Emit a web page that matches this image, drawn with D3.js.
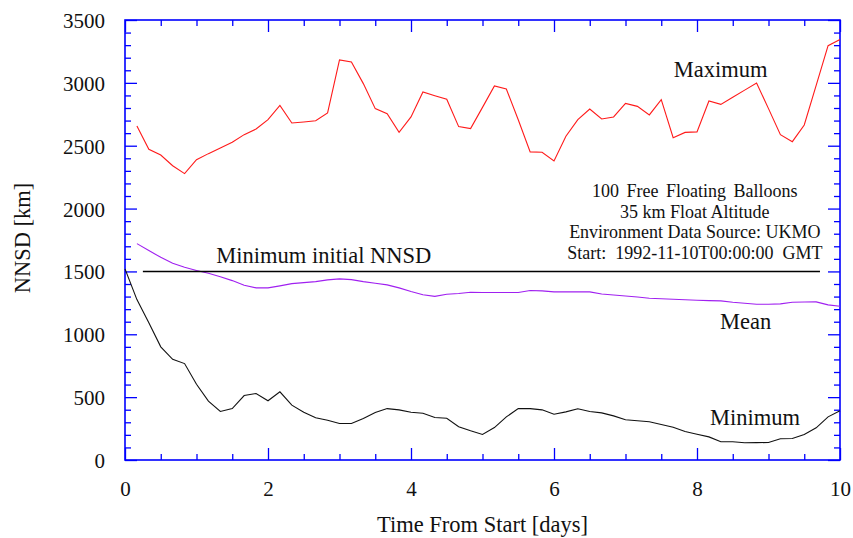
<!DOCTYPE html>
<html>
<head>
<meta charset="utf-8">
<script src="https://cdn.jsdelivr.net/npm/d3@7"></script>
<style>
  body { margin: 0; background: #ffffff; }
  text { font-family: "Liberation Serif", "Times New Roman", serif; fill: #111111; }
</style>
</head>
<body>
<div class="nnsd_chart"></div>
<script>
// Time of each sample, hours from start (every 4 h over 10 days)
var hours = [0,4,8,12,16,20,24,28,32,36,40,44,48,52,56,60,64,68,72,76,80,84,88,92,96,100,
  104,108,112,116,120,124,128,132,136,140,144,148,152,156,160,164,168,172,176,180,184,188,
  192,196,200,204,208,212,216,220,224,228,232,236,240];

// NNSD values [km] (null = no sample)
var maximum = [null,2657,2471,2426,2341,2278,2389,2437,2482,2527,2588,2633,2707,2821,2681,2689,
  2699,2761,3182,3166,2994,2795,2755,2606,2729,2928,2898,2869,2652,2636,2805,2975,2951,2707,
  2451,2448,2379,2575,2707,2792,2713,2729,2837,2813,2745,2866,2564,2606,2610,2856,2829,2885,
  2942,2999,2795,2588,2532,2665,2980,3296,3344];

var mean = [null,1721,1666,1612,1565,1533,1507,1485,1457,1427,1390,1369,1369,1385,1403,1411,
  1419,1433,1441,1435,1419,1406,1393,1369,1340,1314,1302,1318,1324,1334,1332,1332,1332,1332,
  1348,1345,1337,1337,1337,1337,1321,1313,1305,1296,1287,1283,1279,1275,1271,1268,1266,1255,
  1247,1239,1239,1242,1255,1257,1258,1234,1223];

var minimum = [1520,1276,1091,900,801,767,603,468,386,409,513,529,471,542,436,380,336,316,290,
  290,330,378,409,399,380,372,338,332,264,232,203,258,343,409,409,399,364,383,407,386,375,351,
  320,312,304,283,261,227,205,184,145,145,137,138,139,169,171,203,256,343,391];

// Reference line: minimum initial NNSD
var refValue = 1500;
var refDays = [0.25, 9.72];

// Axis ticks
var xMajor = [0, 2, 4, 6, 8, 10];
var xMinor = [0.5, 1, 1.5, 2.5, 3, 3.5, 4.5, 5, 5.5, 6.5, 7, 7.5, 8.5, 9, 9.5];
var yMajor = [0, 500, 1000, 1500, 2000, 2500, 3000, 3500];
var yMinor = [100,200,300,400,600,700,800,900,1100,1200,1300,1400,1600,1700,1800,1900,
  2100,2200,2300,2400,2600,2700,2800,2900,3100,3200,3300,3400];

var notes = ["100 Free Floating Balloons", "35 km Float Altitude",
  "Environment Data Source: UKMO", "Start:  1992-11-10T00:00:00  GMT"];

// Set the dimensions and margins
var margin = {top: 20, right: 13, bottom: 78, left: 125},
width = 853 - margin.left - margin.right,
height = 538 - margin.top - margin.bottom;

var svg = d3.select(".nnsd_chart")
  .append("svg")
  .attr("width", width + margin.left + margin.right)
  .attr("height", height + margin.top + margin.bottom)
  .append("g")
  .attr("transform", "translate(" + margin.left + "," + margin.top + ")");

var x = d3.scaleLinear().domain([0, 10]).range([0, width]);
var y = d3.scaleLinear().domain([0, 3500]).range([height, 0]);

var blue = "#0000ff";

function styleAxis(g) {
  g.select(".domain").remove();
  g.selectAll(".tick line").attr("stroke", blue).attr("stroke-width", 1.3);
}

// Minor ticks on all four sides, pointing inward
svg.append("g").attr("transform", "translate(0," + height + ")")
  .call(d3.axisBottom(x).tickValues(xMinor).tickSize(-6).tickFormat(""))
  .call(styleAxis);
svg.append("g")
  .call(d3.axisTop(x).tickValues(xMinor).tickSize(-6).tickFormat(""))
  .call(styleAxis);
svg.append("g")
  .call(d3.axisLeft(y).tickValues(yMinor).tickSize(-6).tickFormat(""))
  .call(styleAxis);
svg.append("g").attr("transform", "translate(" + width + ",0)")
  .call(d3.axisRight(y).tickValues(yMinor).tickSize(-6).tickFormat(""))
  .call(styleAxis);

// Major ticks
svg.append("g").attr("transform", "translate(0," + height + ")")
  .style("font-size", "21px")
  .call(d3.axisBottom(x).tickValues(xMajor).tickSize(-12).tickFormat(d3.format("d")))
  .call(styleAxis)
  .call(g => g.selectAll(".tick text")
    .attr("y", 36).attr("dy", 0)
    .attr("fill", "#111111")
    .style("font-family", "'Liberation Serif', serif"));
svg.append("g")
  .call(d3.axisTop(x).tickValues(xMajor).tickSize(-12).tickFormat(""))
  .call(styleAxis);
svg.append("g")
  .style("font-size", "21px")
  .call(d3.axisLeft(y).tickValues(yMajor).tickSize(-12).tickPadding(20).tickFormat(d3.format("d")))
  .call(styleAxis)
  .call(g => g.selectAll(".tick text")
    .attr("dy", "0.36em")
    .attr("fill", "#111111")
    .style("font-family", "'Liberation Serif', serif"));
svg.append("g").attr("transform", "translate(" + width + ",0)")
  .call(d3.axisRight(y).tickValues(yMajor).tickSize(-12).tickFormat(""))
  .call(styleAxis);

// Frame
svg.append("rect")
  .attr("width", width)
  .attr("height", height)
  .attr("fill", "none")
  .attr("stroke", blue)
  .attr("stroke-width", 1.6);

// Axis titles
svg.append("text")
  .attr("x", width / 2)
  .attr("y", height + 72)
  .style("font-size", "22.5px")
  .style("text-anchor", "middle")
  .text("Time From Start [days]");

svg.append("text")
  .attr("transform", "rotate(-90)")
  .attr("x", -height / 2 + 2)
  .attr("y", -margin.left + 30)
  .style("font-size", "22.5px")
  .style("text-anchor", "middle")
  .text("NNSD [km]");

// Lines
var days = hours.map(h => h / 24);
function series(vals) {
  return vals.map((v, i) => ({day: days[i], value: v}));
}
var line = d3.line()
  .defined(d => d.value != null)
  .x(d => x(d.day))
  .y(d => y(d.value));

svg.append("path")
  .datum(series(maximum))
  .attr("fill", "none")
  .attr("stroke", "#ff1a1a")
  .attr("stroke-width", 1.1)
  .attr("d", line);

svg.append("path")
  .datum(series(mean))
  .attr("fill", "none")
  .attr("stroke", "#a020f0")
  .attr("stroke-width", 1.1)
  .attr("d", line);

svg.append("path")
  .datum(series(minimum))
  .attr("fill", "none")
  .attr("stroke", "#111111")
  .attr("stroke-width", 1.1)
  .attr("d", line);

// Minimum initial NNSD reference line
svg.append("line")
  .attr("x1", x(refDays[0]))
  .attr("x2", x(refDays[1]))
  .attr("y1", y(refValue))
  .attr("y2", y(refValue))
  .attr("stroke", "#000000")
  .attr("stroke-width", 1.4);

// Curve labels
function label(txt, day, value) {
  svg.append("text")
    .attr("x", x(day))
    .attr("y", y(value))
    .style("font-size", "22.5px")
    .style("text-anchor", "middle")
    .text(txt);
}
label("Maximum", 8.33, 3049);
label("Mean", 8.68, 1040);
label("Minimum", 8.81, 278);
label("Minimum initial NNSD", 2.78, 1569);

// Run info
svg.append("g")
  .selectAll("text")
  .data(notes)
  .enter().append("text")
    .attr("x", x(7.97))
    .attr("y", (d, i) => y(2092) + i * 20.5)
    .attr("xml:space", "preserve")
    .style("white-space", "pre")
    .style("font-size", "18px")
    .style("word-spacing", (d, i) => i === 0 ? "3px" : "0px")
    .style("text-anchor", "middle")
    .text(d => d);
</script>
</body>
</html>
